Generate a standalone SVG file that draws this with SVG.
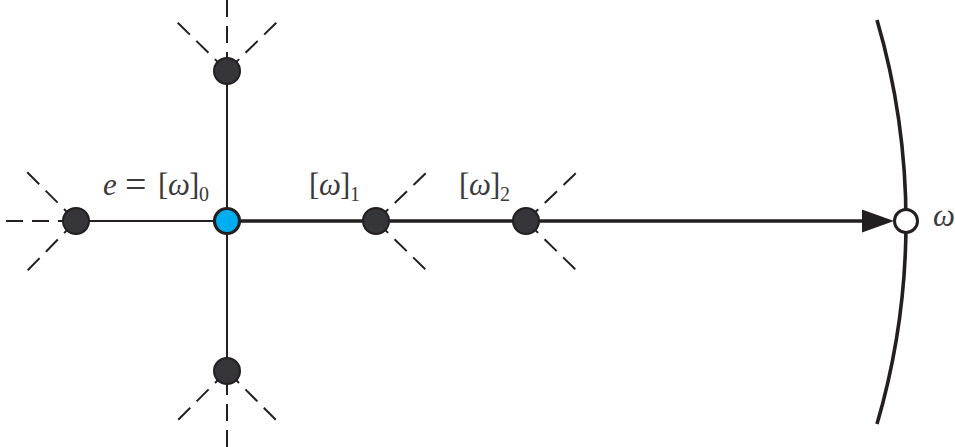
<svg xmlns="http://www.w3.org/2000/svg" width="955" height="447" viewBox="0 0 955 447">
<style>
.thin{stroke:#231f20;stroke-width:2;fill:none}
.thick{stroke:#231f20;stroke-width:3.6;fill:none}
.dash{stroke:#231f20;stroke-width:2;fill:none;stroke-dasharray:17 9}
.node{fill:#363539;stroke:#231f20;stroke-width:2}
.lbl{font-family:"Liberation Serif","DejaVu Serif",serif;font-size:31px;fill:#3a3a3a}
.it{font-style:italic}
.sub{font-size:20px}
.eq{font-size:38px}
</style>
<g id="connectors">
<line class="thin" x1="76" y1="221" x2="227" y2="221"/>
<line class="thin" x1="227" y1="71" x2="227" y2="371"/>
<line class="thick" x1="227" y1="221" x2="866" y2="221"/>
<polygon points="862,209.5 894,221 862,232.5" fill="#231f20"/>
<path class="thick" d="M877,20 A718,718 0 0 1 877,424"/>
</g>
<g id="dashes">
<line class="dash" x1="6" y1="221" x2="76" y2="221"/>
<line class="dash" x1="76" y1="221" x2="27" y2="172"/>
<line class="dash" x1="76" y1="221" x2="27" y2="271"/>
<line class="dash" x1="227" y1="0" x2="227" y2="71"/>
<line class="dash" x1="227" y1="71" x2="176" y2="21"/>
<line class="dash" x1="227" y1="71" x2="278" y2="21"/>
<line class="dash" x1="227" y1="447" x2="227" y2="371"/>
<line class="dash" x1="227" y1="371" x2="176" y2="422"/>
<line class="dash" x1="227" y1="371" x2="278" y2="422"/>
<line class="dash" x1="376" y1="221" x2="427" y2="172"/>
<line class="dash" x1="376" y1="221" x2="427" y2="271"/>
<line class="dash" x1="526" y1="221" x2="577" y2="172"/>
<line class="dash" x1="526" y1="221" x2="577" y2="271"/>
</g>
<g id="node-left"><circle class="node" cx="76" cy="221" r="13"/></g>
<g id="node-top"><circle class="node" cx="227" cy="71" r="13"/></g>
<g id="node-bottom"><circle class="node" cx="227" cy="371" r="13"/></g>
<g id="node-e"><circle cx="227" cy="221" r="12.5" fill="#00aeef" stroke="#231f20" stroke-width="3.2"/>
<text class="lbl" y="195"><tspan class="it" x="103">e</tspan><tspan class="eq" x="125" y="197">=</tspan><tspan x="158" y="195">[</tspan><tspan class="it" x="168">ω</tspan><tspan x="189">]</tspan><tspan class="sub" x="199" y="201">0</tspan></text></g>
<g id="node-w1"><circle class="node" cx="376" cy="221" r="13"/>
<text class="lbl" y="195"><tspan x="309">[</tspan><tspan class="it" x="319">ω</tspan><tspan x="340">]</tspan><tspan class="sub" x="350" y="201">1</tspan></text></g>
<g id="node-w2"><circle class="node" cx="526" cy="221" r="13"/>
<text class="lbl" y="195"><tspan x="459">[</tspan><tspan class="it" x="469">ω</tspan><tspan x="490">]</tspan><tspan class="sub" x="500" y="201">2</tspan></text></g>
<g id="node-omega"><circle cx="906" cy="221" r="11.5" fill="#fff" stroke="#231f20" stroke-width="3"/>
<text class="lbl it" x="933" y="226">ω</text></g>
</svg>
